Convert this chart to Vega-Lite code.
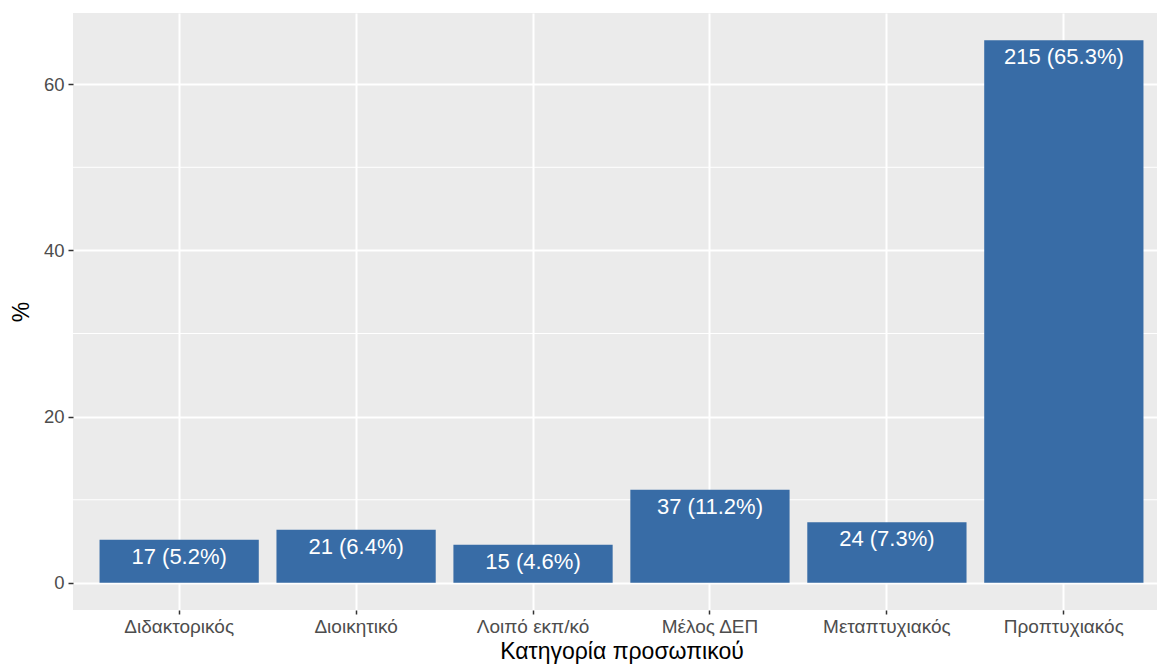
{
  "$schema": "https://vega.github.io/schema/vega-lite/v6.json",
  "width": 1084,
  "height": 597,
  "autosize": {"type": "none"},
  "padding": {"left": 73, "top": 13, "right": 0, "bottom": 59},
  "background": "white",
  "config": {
    "font": "Liberation Sans",
    "view": {"fill": "#EBEBEB", "stroke": null}
  },
  "datasets": {
    "main": [
      {"category": "Διδακτορικός", "n": 17, "pct": 5.2, "label": "17 (5.2%)"},
      {"category": "Διοικητικό", "n": 21, "pct": 6.4, "label": "21 (6.4%)"},
      {"category": "Λοιπό εκπ/κό", "n": 15, "pct": 4.6, "label": "15 (4.6%)"},
      {"category": "Μέλος ΔΕΠ", "n": 37, "pct": 11.2, "label": "37 (11.2%)"},
      {"category": "Μεταπτυχιακός", "n": 24, "pct": 7.3, "label": "24 (7.3%)"},
      {"category": "Προπτυχιακός", "n": 215, "pct": 65.3, "label": "215 (65.3%)"}
    ],
    "minor": [{"m": 10}, {"m": 30}, {"m": 50}]
  },
  "layer": [
    {
      "data": {"name": "minor"},
      "mark": {"type": "rule", "color": "white", "strokeWidth": 1},
      "encoding": {
        "y": {"field": "m", "type": "quantitative", "scale": {"domain": [-3.265, 68.565], "nice": false, "zero": false}}
      }
    },
    {
      "data": {"name": "main"},
      "mark": {"type": "bar", "color": "#386CA6"},
      "encoding": {
        "x": {
          "field": "category", "type": "nominal", "sort": null,
          "scale": {"range": [0, 1097], "paddingInner": 0.1, "paddingOuter": 0.15},
          "axis": {
            "title": "Κατηγορία προσωπικού",
            "titleFontSize": 23, "titleFontWeight": "normal", "titleColor": "black", "titlePadding": 4,
            "labelFontSize": 19, "labelColor": "#4D4D4D", "labelPadding": 3, "labelAngle": 0,
            "domain": false, "ticks": true, "tickColor": "#333333", "tickSize": 4, "tickWidth": 1.5,
            "grid": true, "gridColor": "white", "gridWidth": 2
          }
        },
        "y": {
          "field": "pct", "type": "quantitative",
          "scale": {"domain": [-3.265, 68.565], "nice": false, "zero": false},
          "axis": {
            "title": "%", "titleFontSize": 23, "titleFontWeight": "normal", "titleColor": "black", "titlePadding": 10,
            "values": [0, 20, 40, 60],
            "labelFontSize": 18.5, "labelColor": "#4D4D4D", "labelPadding": 4,
            "domain": false, "ticks": true, "tickColor": "#333333", "tickSize": 5, "tickWidth": 1.5,
            "grid": true, "gridColor": "white", "gridWidth": 2
          }
        },
        "y2": {"datum": 0}
      }
    },
    {
      "data": {"name": "main"},
      "mark": {"type": "text", "color": "white", "fontSize": 22, "baseline": "middle", "dy": 17},
      "encoding": {
        "x": {"field": "category", "type": "nominal", "sort": null},
        "y": {"field": "pct", "type": "quantitative"},
        "text": {"field": "label"}
      }
    }
  ]
}
